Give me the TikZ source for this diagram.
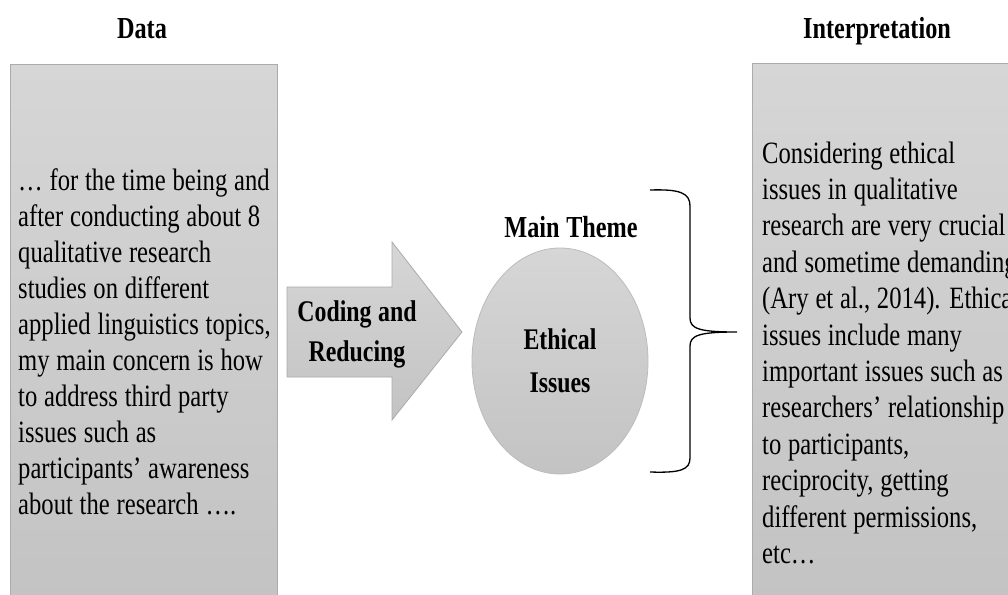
\documentclass[tikz,border=0pt]{standalone}
\usepackage{fontspec}
\setmainfont{Liberation Serif}[FakeStretch=0.795, WordSpace=1.1]
\definecolor{boxtop}{HTML}{D6D6D6}
\definecolor{boxbot}{HTML}{C3C3C3}
\definecolor{boxline}{HTML}{ABABAB}
\tikzset{
  panel/.style={draw=boxline, line width=0.8pt, top color=boxtop, bottom color=boxbot},
  body/.style={font=\fontsize{31}{36}\selectfont, inner sep=0pt, text width=300pt, align=flush left, anchor=base west},
  head/.style={font=\fontsize{30.5}{36}\selectfont\bfseries, inner sep=0pt, anchor=base},
  boldlines/.style={font=\fontsize{30}{40}\selectfont\bfseries, inner sep=0pt, align=flush center, text width=160pt, anchor=base},
  bracepath/.style={draw=black, line width=1.3pt}
}
\begin{document}
\begin{tikzpicture}[x=1pt,y=-1pt]
\useasboundingbox[fill=white] (0,0) rectangle (1008,594);
% panels
\path[panel] (10,600) -- (10,64) -- (277,64) -- (277,600);
\path[panel] (752,600) -- (752,63) -- (1012,63) -- (1012,600);
% headings
\node[head] (datahead) at (142,39) {Data};
\node[head] (interphead) at (877,39) {Interpretation};
% left text
\node[body] (datatext) at (18,190) {… for the time being and\\
after conducting about 8\\
qualitative research\\
studies on different\\
applied linguistics topics,\\
my main concern is how\\
to address third party\\
issues such as\\
participants’ awareness\\
about the research ….};
% right text
\node[body, font=\fontsize{31}{36.4}\selectfont] (interptext) at (762,163) {Considering ethical\\
issues in qualitative\\
research are very crucial\\
and sometime demanding\\
(Ary et al., 2014). Ethical\\
issues include many\\
important issues such as\\
researchers’ relationship\\
to participants,\\
reciprocity, getting\\
different permissions,\\
etc…};
% block arrow
\path[panel] (287,287) -- (392,287) -- (392,242) -- (462,332) -- (392,420) -- (392,377) -- (287,377) -- cycle;
\node[boldlines] (coding) at (357,321) {Coding and\\Reducing};
% ellipse
\path[panel, draw=boxline!80] (560,361) ellipse [x radius=88, y radius=113];
\node[head] (theme) at (571,237) {Main Theme};
\node[boldlines, font=\fontsize{30}{43}\selectfont\bfseries] (ethical) at (560,349) {Ethical\\Issues};
% brace
\path[bracepath] (650,190) .. controls (680,189) and (690,193) .. (690,206) -- (690,318)
  .. controls (690,329) and (700,332) .. (737,332)
  .. controls (700,332) and (690,335) .. (690,346) -- (690,458)
  .. controls (690,470) and (680,473) .. (650,472);
\end{tikzpicture}
\end{document}
